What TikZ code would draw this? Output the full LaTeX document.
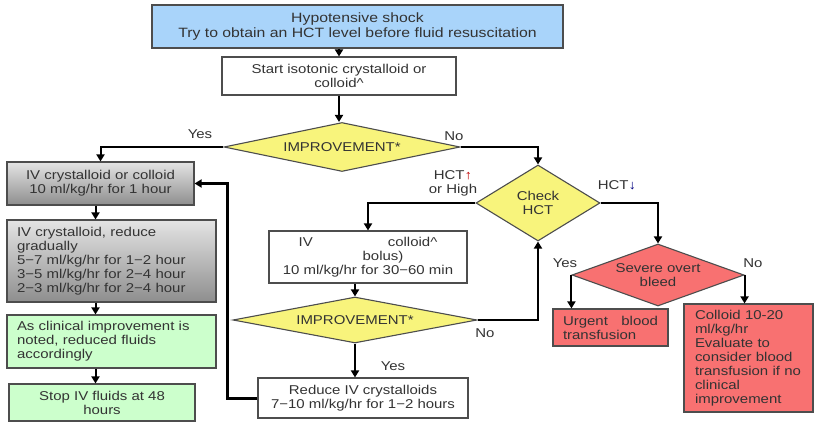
\documentclass[tikz,border=0pt]{standalone}
\usepackage{fontspec}
\setmainfont{Liberation Sans}[FakeStretch=1.17]
\usetikzlibrary{shapes.geometric,arrows.meta}
\definecolor{bluefill}{HTML}{A9D4FA}
\definecolor{yellowfill}{HTML}{F8F47C}
\definecolor{greenfill}{HTML}{CCFFCC}
\definecolor{redfill}{HTML}{F87171}
\definecolor{edge}{HTML}{4D4D4D}
\definecolor{txt}{HTML}{333333}
\definecolor{graytop}{HTML}{E4E4E4}
\definecolor{graybot}{HTML}{8E8E8E}
\begin{document}
\begin{tikzpicture}[x=1pt,y=-1pt,
  font=\fontsize{12.8}{14}\selectfont, text=txt,
  box/.style={draw=edge, line width=1.1pt, inner sep=0pt, rectangle},
  grad/.style={box, top color=graytop, bottom color=graybot},
  dia/.style={draw=edge, line width=1.1pt, fill=yellowfill, diamond, inner sep=0pt, align=center},
  conn/.style={line width=2pt, -{Triangle[length=7pt,width=8pt]}},
  lbl/.style={inner sep=0pt, align=center}
]
\fill[white] (0,0) rectangle (817,422);
\useasboundingbox (0,0) rectangle (817,422);

% boxes
\node[box, fill=bluefill, minimum width=411pt, minimum height=43pt, align=center,
  font=\fontsize{13.5}{15}\selectfont] (top) at (357.5,26.5)
  {Hypotensive shock\\Try to obtain an HCT level before fluid resuscitation};
\node[box, fill=white, minimum width=234pt, minimum height=38pt, align=center] (start) at (339,76)
  {Start isotonic crystalloid or\\colloid\textasciicircum};
\node[dia, aspect=4.8, minimum width=236pt, minimum height=49pt] (d1) at (342,147) {IMPROVEMENT*};

\node[grad, minimum width=187pt, minimum height=43pt, align=center] (b1) at (100.5,183.5)
  {IV crystalloid or colloid\\10 ml/kg/hr for 1 hour};
\node[grad, minimum width=209pt, minimum height=82pt, text width=189pt, align=left] (b2) at (111.5,261)
  {IV crystalloid, reduce\\gradually\\5−7 ml/kg/hr for 1−2 hour\\3−5 ml/kg/hr for 2−4 hour\\2−3 ml/kg/hr for 2−4 hour};
\node[box, fill=greenfill, minimum width=209pt, minimum height=53pt, text width=189pt, align=left] (b3) at (111.5,341.5)
  {As clinical improvement is\\noted, reduced fluids\\accordingly};
\node[box, fill=greenfill, minimum width=186pt, minimum height=37pt, align=center] (b4) at (102,402.5)
  {Stop IV fluids at 48\\hours};

\node[dia, aspect=1.63, minimum width=124pt, minimum height=76pt] (chk) at (538,203) {Check\\HCT};
\node[box, fill=white, minimum width=198pt, minimum height=52pt, align=center] (col) at (368,257)
  {IV\hspace*{75pt}colloid\textasciicircum\\\hspace*{30pt}bolus)\\10 ml/kg/hr for 30−60 min};
\node[dia, aspect=5.3, minimum width=244pt, minimum height=46pt] (d2) at (355,320) {IMPROVEMENT*};
\node[box, fill=white, minimum width=210pt, minimum height=40pt, align=center] (red) at (363,398)
  {Reduce IV crystalloids\\7−10 ml/kg/hr for 1−2 hours};

\node[dia, fill=redfill, aspect=2.77, minimum width=172pt, minimum height=62pt] (sev) at (658,275)
  {Severe overt\\bleed};
\node[box, fill=redfill, minimum width=115pt, minimum height=37pt, text width=95pt, align=left] (urg) at (610.5,327.5)
  {Urgent\hfill blood\\transfusion};
\node[box, fill=redfill, minimum width=129pt, minimum height=108pt, text width=107pt, align=left] (cb) at (748.5,358)
  {Colloid 10-20\\ml/kg/hr\\Evaluate to\\consider blood\\transfusion if no\\clinical\\improvement};

% labels
\node[lbl] (lyes1) at (200,134) {Yes};
\node[lbl] (lno1) at (454,136) {No};
\node[lbl] (lhigh) at (453,183) {HCT{\color{red!75!black}↑}\\or High};
\node[lbl] (llow) at (617,185) {HCT{\color{blue!50!black}↓}};
\node[lbl] (lno2) at (485,333) {No};
\node[lbl] (lyes2) at (393,366) {Yes};
\node[lbl] (lyes3) at (565,263) {Yes};
\node[lbl] (lno3) at (753,263) {No};

% connectors
\coordinate (lx) at (95.5,0);
\draw[conn] (start.north |- top.south) -- (start.north);
\draw[conn] (start.south) -- (start.south |- d1.north);
\draw[conn] (d1.west) -| (b1.north);
\draw[conn] (d1.east) -| (chk.north);
\draw[conn] (lx |- b1.south) -- (lx |- b2.north);
\draw[conn] (lx |- b2.south) -- (lx |- b3.north);
\draw[conn] (lx |- b3.south) -- (lx |- b4.north);
\draw[conn, line width=3pt] (red.west) -- ++(-30,0) |- (b1.east);
\draw[conn] (chk.west) -| (col.north);
\draw[conn] (col.south -| d2.north) -- (d2.north);
\draw[conn] (d2.east) -| (chk.south);
\draw[conn] (d2.south) -- (d2.south |- red.north);
\draw[conn] (chk.east) -| (sev.north);
\draw[conn] (sev.west) -- (sev.west |- urg.north);
\draw[conn] (sev.east) -- (sev.east |- cb.north);
\end{tikzpicture}
\end{document}
